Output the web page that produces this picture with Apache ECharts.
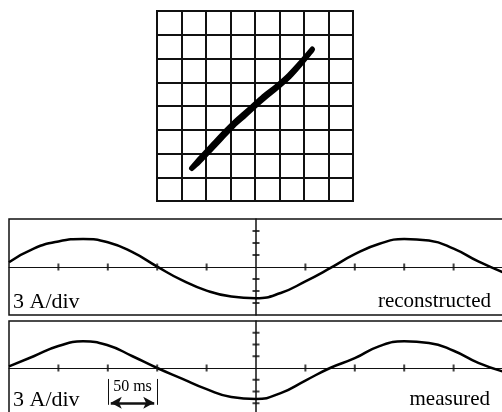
<!DOCTYPE html>
<html>
<head>
<meta charset="utf-8">
<script src="https://cdn.jsdelivr.net/npm/echarts@6/dist/echarts.min.js"></script>
<style>
html, body {margin: 0; padding: 0; background: #fff;}
#main {width: 502px; height: 412px;}
</style>
</head>
<body>
<div id="main"></div>
<script>
// X-Y trace, in screen divisions (centre = 0)
let xyTraceX = [-2.58, -2.2, -1.7, -1.2, -0.8, -0.4, 0.0, 0.4, 0.9, 1.4, 1.9, 2.34,
                2.3, 1.9, 1.4, 0.9, 0.45, 0.0, -0.4, -0.9, -1.4, -1.9, -2.3, -2.58];
let xyTraceY = [-2.62, -2.17, -1.62, -1.07, -0.66, -0.3, 0.07, 0.44, 0.84, 1.3, 1.86, 2.39,
                2.33, 1.82, 1.24, 0.78, 0.4, 0.0, -0.38, -0.84, -1.38, -1.93, -2.36, -2.62];

// waveforms: time (ms), current (A), read every 25 ms
let waveTime = [-250, -225, -200, -175, -150, -125, -100, -75, -50, -25, 0,
                25, 50, 75, 100, 125, 150, 175, 200, 225, 250];
let reconCurrent = [1.2, 4.6, 6.4, 7.0, 6.2, 3.7, 0.1, -3.3, -5.9, -7.4, -7.8,
                    -6.5, -3.6, -0.3, 3.2, 5.8, 7.0, 6.6, 4.6, 1.4, -1.3];
let measCurrent = [0.4, 3.0, 5.6, 6.8, 5.8, 3.0, 0.0, -2.7, -5.4, -7.4, -7.9,
                   -6.4, -3.2, 0.0, 2.5, 5.6, 6.8, 6.4, 4.4, 1.3, -0.9];

// graticule marks on the centre lines
let timeTicks = [-200, -150, -100, -50, 50, 100, 150, 200];
let currentTicks = [-9, -6, -3, 3, 6, 9];
// 50 ms scale bar
let scaleBarMs = [-150, -100];

function zip(a, b) {
    let out = [];
    for (let i = 0; i < a.length; i++) {
        out.push([a[i], b[i]]);
    }
    return out;
}

const INK = '#111';
const SERIF = '"Liberation Serif", "Times New Roman", serif';

let noAxisBits = {
    axisTick: {show: false},
    axisLabel: {show: false}
};

function waveX(gridIndex) {
    return Object.assign({
        gridIndex: gridIndex, type: 'value', min: -250, max: 250, interval: 50,
        axisLine: {show: true, onZero: true, lineStyle: {color: INK, width: 1}},
        splitLine: {show: false}
    }, noAxisBits);
}
function waveY(gridIndex) {
    return Object.assign({
        gridIndex: gridIndex, type: 'value', min: -12, max: 12, interval: 3,
        axisLine: {show: true, onZero: true, lineStyle: {color: INK, width: 1.5}},
        splitLine: {show: false}
    }, noAxisBits);
}
function tickMarks(axisIndex, data, size) {
    return {
        type: 'scatter', xAxisIndex: axisIndex, yAxisIndex: axisIndex,
        symbol: 'rect', symbolSize: size, silent: true,
        itemStyle: {color: INK}, data: data, z: 3
    };
}
function waveSeries(name, axisIndex, data) {
    return {
        name: name,
        type: 'line', xAxisIndex: axisIndex, yAxisIndex: axisIndex,
        data: data,
        showSymbol: false, smooth: true,
        lineStyle: {color: '#000', width: 2.5}
    };
}

let measured = waveSeries('measured', 2, zip(waveTime, measCurrent));
measured.markLine = {
    silent: true, symbol: 'none', animation: false,
    label: {show: false},
    lineStyle: {color: INK, type: 'solid', width: 1},
    data: [
        [{coord: [scaleBarMs[0], -2.8]}, {coord: [scaleBarMs[0], -9.4]}],
        [{coord: [scaleBarMs[1], -2.8]}, {coord: [scaleBarMs[1], -9.4]}],
        [{coord: [scaleBarMs[0] + 3, -8.9], symbol: 'arrow', symbolSize: [9, 11],
          lineStyle: {width: 2.5}},
         {coord: [scaleBarMs[1] - 3, -8.9], symbol: 'arrow', symbolSize: [9, 11]}]
    ]
};
measured.markPoint = {
    silent: true, symbol: 'rect', symbolSize: 0,
    label: {show: true, position: 'inside', color: '#000',
            fontFamily: SERIF, fontSize: 16, formatter: '50 ms'},
    data: [{coord: [(scaleBarMs[0] + scaleBarMs[1]) / 2, -4.7]}]
};

let option = {
    backgroundColor: '#fff',
    animation: false,
    grid: [
        {left: 157, top: 11, width: 196, height: 190, show: true,
         borderColor: INK, borderWidth: 2, outerBoundsMode: 'none'},
        {left: 9, top: 219, width: 494, height: 96, show: true,
         borderColor: INK, borderWidth: 1.5, outerBoundsMode: 'none'},
        {left: 9, top: 321, width: 494, height: 94, show: true,
         borderColor: INK, borderWidth: 1.5, outerBoundsMode: 'none'}
    ],
    xAxis: [
        Object.assign({
            gridIndex: 0, type: 'value', min: -4, max: 4, interval: 1,
            axisLine: {show: false},
            splitLine: {show: true, lineStyle: {color: INK, width: 2}}
        }, noAxisBits),
        waveX(1),
        waveX(2)
    ],
    yAxis: [
        Object.assign({
            gridIndex: 0, type: 'value', min: -4, max: 4, interval: 1,
            axisLine: {show: false},
            splitLine: {show: true, lineStyle: {color: INK, width: 2}}
        }, noAxisBits),
        waveY(1),
        waveY(2)
    ],
    series: [
        {
            name: 'xy',
            type: 'line', xAxisIndex: 0, yAxisIndex: 0,
            data: zip(xyTraceX, xyTraceY),
            showSymbol: false, smooth: 0.3,
            lineStyle: {color: '#000', width: 5.5, cap: 'round', join: 'round'}
        },
        waveSeries('reconstructed', 1, zip(waveTime, reconCurrent)),
        measured,
        tickMarks(1, timeTicks.map(t => [t, 0]), [2, 7]),
        tickMarks(1, currentTicks.map(a => [0, a]), [7, 2]),
        tickMarks(2, timeTicks.map(t => [t, 0]), [2, 7]),
        tickMarks(2, currentTicks.map(a => [0, a]), [7, 2])
    ],
    graphic: [
        {type: 'text', x: 13, y: 302, style: {text: '3 A/div', fill: '#000',
            font: '22px ' + SERIF, align: 'left', verticalAlign: 'middle'}},
        {type: 'text', x: 491, y: 301, style: {text: 'reconstructed', fill: '#000',
            font: '21px ' + SERIF, align: 'right', verticalAlign: 'middle'}},
        {type: 'text', x: 13, y: 400, style: {text: '3 A/div', fill: '#000',
            font: '22px ' + SERIF, align: 'left', verticalAlign: 'middle'}},
        {type: 'text', x: 490, y: 399, style: {text: 'measured', fill: '#000',
            font: '21px ' + SERIF, align: 'right', verticalAlign: 'middle'}}
    ]
};

let myChart = echarts.init(document.getElementById('main'));
myChart.setOption(option);
</script>
</body>
</html>
